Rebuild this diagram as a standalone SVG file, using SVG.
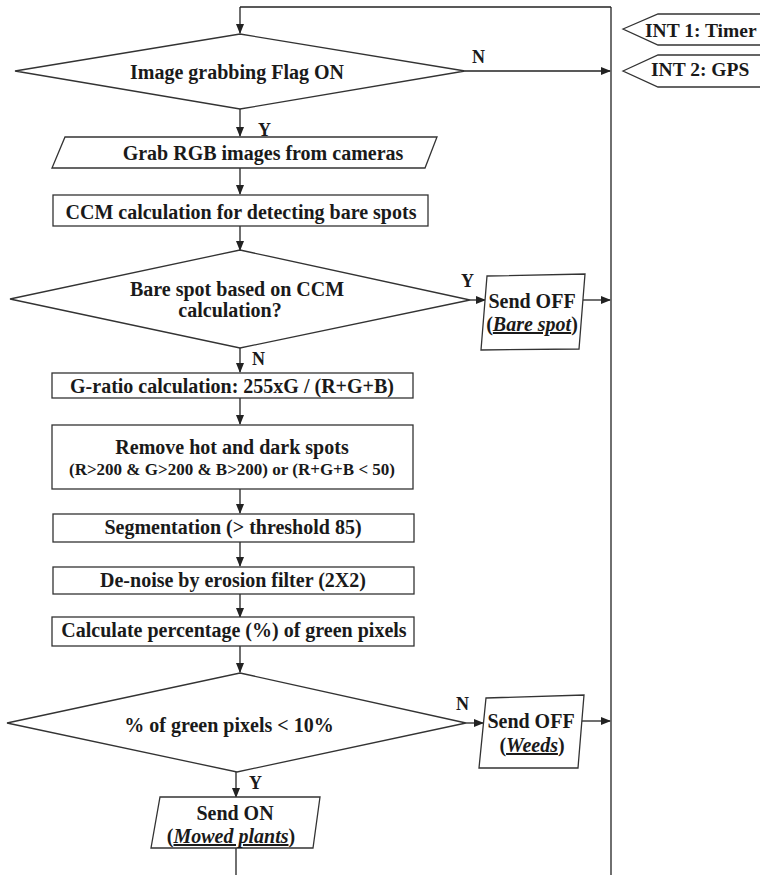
<svg xmlns="http://www.w3.org/2000/svg" width="760" height="875" viewBox="0 0 760 875">
<defs>
<marker id="ah" markerWidth="10" markerHeight="8" refX="9" refY="4" orient="auto" markerUnits="userSpaceOnUse">
<path d="M0,0 L10,4 L0,8 Z" fill="#222"/>
</marker>
<style>
.s{fill:#fff;stroke:#333;stroke-width:1.3}
.c{fill:none;stroke:#222;stroke-width:1.3}
.a{fill:none;stroke:#222;stroke-width:1.3;marker-end:url(#ah)}
text{font-family:"Liberation Serif","Times New Roman",serif;font-weight:bold;fill:#1a1a1a}
.t{font-size:20px;text-anchor:middle}
.m{font-size:17px;text-anchor:middle}
.l{font-size:18px}
.i{font-size:19.5px}
.u{font-style:italic;text-decoration:underline}
</style>
</defs>
<rect width="760" height="875" fill="#fff"/>
<g id="connectors">
<polyline class="c" points="611,7 240,7"/>
<line class="a" x1="240" y1="7" x2="240" y2="33"/>
<line class="c" x1="611" y1="7" x2="611" y2="875"/>
<line class="a" x1="465" y1="71" x2="610" y2="71"/>
<line class="a" x1="240" y1="109" x2="240" y2="136"/>
<line class="a" x1="240" y1="168" x2="240" y2="194"/>
<line class="a" x1="240" y1="226" x2="240" y2="250"/>
<line class="a" x1="470" y1="300" x2="485" y2="300"/>
<line class="a" x1="583" y1="300" x2="610" y2="300"/>
<line class="a" x1="240" y1="348" x2="240" y2="372"/>
<line class="a" x1="240" y1="398" x2="240" y2="424"/>
<line class="a" x1="240" y1="489" x2="240" y2="513"/>
<line class="a" x1="240" y1="542" x2="240" y2="566"/>
<line class="a" x1="240" y1="594" x2="240" y2="617"/>
<line class="a" x1="240" y1="646" x2="240" y2="672"/>
<line class="a" x1="466" y1="723" x2="483" y2="723"/>
<line class="a" x1="581" y1="721" x2="610" y2="721"/>
<line class="a" x1="236" y1="772" x2="236" y2="797"/>
<line class="c" x1="236" y1="848" x2="236" y2="875"/>
<text class="l" x="472" y="63">N</text>
<text class="l" x="258" y="136">Y</text>
<text class="l" x="461" y="287">Y</text>
<text class="l" x="252" y="365">N</text>
<text class="l" x="456" y="710">N</text>
<text class="l" x="249" y="789">Y</text>
</g>
<g id="int1">
<polygon class="s" points="623,29 658,14 762,14 762,45 658,45"/>
<text class="i" x="645" y="37">INT 1: Timer</text>
</g>
<g id="int2">
<polygon class="s" points="623,71 658,55 762,55 762,87 658,87"/>
<text class="i" x="651" y="76">INT 2: GPS</text>
</g>
<g id="d1">
<polygon class="s" points="240,34 465,71 240,109 15,71"/>
<text class="t" x="237" y="79">Image grabbing Flag ON</text>
</g>
<g id="grab">
<polygon class="s" points="65,137 437,137 425,168 52,168"/>
<text class="t" x="263" y="160">Grab RGB images from cameras</text>
</g>
<g id="ccm">
<rect class="s" x="53" y="195" width="375" height="31"/>
<text class="t" x="241" y="219">CCM calculation for detecting bare spots</text>
</g>
<g id="d2">
<polygon class="s" points="240,250 470,300 240,348 10,299"/>
<text class="t" x="237" y="296">Bare spot based on CCM</text>
<text class="t" x="230" y="317">calculation?</text>
</g>
<g id="off1">
<polygon class="s" points="487,276 585,274 579,349 481,350"/>
<text class="t" x="532" y="308">Send OFF</text>
<text class="t" x="532" y="331">(<tspan class="u">Bare spot</tspan>)</text>
</g>
<g id="gratio">
<rect class="s" x="52" y="373" width="361" height="25"/>
<text class="t" x="232" y="393">G-ratio calculation: 255xG / (R+G+B)</text>
</g>
<g id="remove">
<rect class="s" x="52" y="425" width="361" height="64"/>
<text class="t" x="232" y="454">Remove hot and dark spots</text>
<text class="m" x="232" y="475">(R&gt;200 &amp; G&gt;200 &amp; B&gt;200) or (R+G+B &lt; 50)</text>
</g>
<g id="seg">
<rect class="s" x="53" y="514" width="361" height="28"/>
<text class="t" x="233" y="534">Segmentation (&gt; threshold 85)</text>
</g>
<g id="denoise">
<rect class="s" x="53" y="567" width="361" height="27"/>
<text class="t" x="233" y="587">De-noise by erosion filter (2X2)</text>
</g>
<g id="pct">
<rect class="s" x="52" y="617" width="362" height="29"/>
<text class="t" x="234" y="637">Calculate percentage (%) of green pixels</text>
</g>
<g id="d3">
<polygon class="s" points="240,673 466,723 237,772 7,723"/>
<text class="t" x="229" y="732">% of green pixels &lt; 10%</text>
</g>
<g id="off2">
<polygon class="s" points="486,698 584,695 578,768 479,768"/>
<text class="t" x="531" y="728">Send OFF</text>
<text class="t" x="532" y="752">(<tspan class="u">Weeds</tspan>)</text>
</g>
<g id="on">
<polygon class="s" points="160,797 320,797 313,848 151,848"/>
<text class="t" x="235" y="820">Send ON</text>
<text class="t" x="231" y="843">(<tspan class="u">Mowed plants</tspan>)</text>
</g>
</svg>
